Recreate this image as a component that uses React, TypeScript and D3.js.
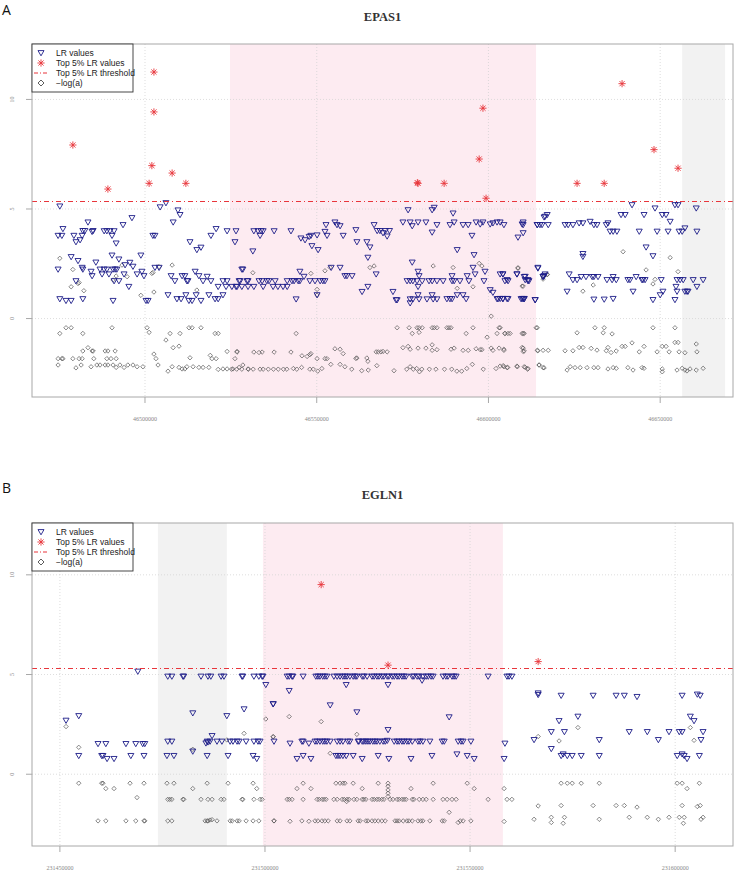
import React from 'react';
import * as d3 from 'd3';

// positions are in kb, values on the LR / -log(a) scale

// ---------- EPAS1 ----------
const lrA: [number, number][] = [
  [46475.2,5.12],[46476.1,4.09],[46474.7,3.78],[46475.8,3.78],[46479.3,3.78],[46479.9,3.49],[46481.1,3.58],[46481.7,3.78],[46481.9,4.0],[46482.5,4.0],
  [46483.4,4.39],[46484.6,3.96],[46484.9,4.0],[46488.1,3.99],[46488.9,3.99],[46489.8,3.99],[46490.4,3.78],[46491.0,3.99],[46491.6,3.43],[46493.6,4.27],
  [46496.2,4.59],[46502.3,3.78],[46502.9,3.78],[46504.4,5.08],[46506.1,5.27],[46508.2,4.39],[46509.6,4.94],[46510.2,4.73],[46513.1,3.49],[46515.1,3.13],
  [46516.3,3.24],[46519.2,3.78],[46520.7,4.09],[46523.9,3.99],[46526.5,3.99],[46526.2,3.49],
  [46478.5,2.81],[46480.5,2.63],[46474.7,2.24],[46481.7,2.32],[46481.9,2.24],[46479.9,1.71],[46484.3,2.14],[46484.6,1.94],[46485.7,2.56],[46486.9,2.24],
  [46487.5,2.02],[46488.1,2.24],[46488.9,2.24],[46489.5,2.02],[46490.4,2.88],[46490.7,2.24],[46491.3,2.24],[46491.8,2.24],[46491.0,1.71],[46492.4,1.71],
  [46492.4,2.7],[46493.9,2.02],[46494.2,2.44],[46495.3,1.45],[46495.6,2.55],[46496.5,2.37],[46497.7,2.02],[46498.8,2.88],[46499.7,1.94],[46499.1,2.14],
  [46502.9,2.32],[46504.1,2.32],[46507.6,1.94],[46508.7,1.71],[46510.8,1.94],[46511.6,1.94],[46512.2,1.71],[46512.5,1.71],[46514.6,2.14],[46515.7,1.94],
  [46516.9,1.71],[46518.1,1.91],[46519.2,1.71],[46521.3,1.45],[46522.7,1.71],[46523.6,1.45],[46523.9,1.71],[46525.3,1.45],[46526.5,1.45],[46527.7,1.71],
  [46528.5,2.24],[46530.0,1.71],
  [46475.2,0.89],[46477.0,0.81],[46478.5,0.81],[46481.9,0.89],[46490.7,0.81],[46500.3,0.81],[46500.9,0.81],[46506.7,1.07],[46509.3,0.89],[46510.5,0.89],
  [46511.9,1.07],[46512.8,0.81],[46513.7,0.81],[46514.9,1.07],[46516.3,0.81],[46518.6,1.07],[46520.4,0.89],[46521.3,0.89],[46522.7,1.07],
  [46531.7,3.99],[46532.9,3.99],[46533.8,3.99],[46534.4,3.99],[46533.5,3.78],[46531.4,3.07],[46537.6,3.99],[46542.5,3.99],[46545.4,3.66],[46546.6,3.58],
  [46547.8,3.73],[46548.3,3.78],[46548.6,3.31],[46550.1,3.8],[46550.4,3.13],[46552.7,4.27],[46552.4,3.96],[46553.0,3.78],[46555.3,4.39],[46555.9,4.27],
  [46556.8,4.22],[46557.7,3.78],[46561.4,4.04],[46561.7,3.49],[46564.6,3.49],[46565.5,3.25],[46566.7,4.27],[46567.6,4.0],[46568.4,4.0],[46569.3,3.9],
  [46570.0,4.0],[46570.5,3.75],[46571.2,4.0],[46564.9,2.78],
  [46528.2,2.24],[46527.4,1.71],[46529.7,1.71],[46533.2,1.71],[46534.1,1.71],[46535.5,1.71],[46536.1,1.71],[46537.9,1.71],
  [46526.8,1.45],[46528.2,1.45],[46530.0,1.45],[46531.7,1.45],[46534.4,1.45],[46537.3,1.45],[46538.7,1.45],[46540.2,1.45],[46541.4,1.45],[46544.0,0.88],
  [46541.4,1.71],[46542.8,1.71],[46543.4,1.71],[46544.6,1.71],[46545.1,1.71],[46545.1,2.14],[46546.3,1.91],[46548.0,1.71],[46549.5,1.71],[46551.0,1.71],
  [46551.8,1.71],[46552.4,1.71],[46550.1,1.07],[46554.2,2.32],[46556.8,2.32],[46558.2,1.94],[46558.8,1.94],[46560.3,1.94],[46563.2,1.22],[46564.9,1.45],
  [46567.3,2.02],[46572.2,1.22],[46573.4,0.84],
  [46576.6,4.95],[46583.6,4.95],[46584.2,5.06],[46589.7,4.8],[46575.1,4.39],[46577.2,4.39],[46577.8,4.22],[46579.5,4.39],[46581.8,4.39],[46583.6,3.93],
  [46585.0,4.27],[46588.8,4.27],[46590.0,4.39],[46592.6,4.27],[46594.1,4.27],[46595.2,3.78],[46596.4,4.39],[46597.6,4.3],[46598.4,4.39],[46600.5,4.3],
  [46601.3,4.35],[46602.5,4.39],[46603.4,4.39],[46604.5,4.27],[46608.6,3.7],[46610.1,3.9],[46610.1,4.27],[46610.1,4.39],[46614.2,4.27],[46615.6,4.27],
  [46616.5,4.65],[46617.1,4.73],[46590.9,3.13],[46595.8,2.9],
  [46577.8,2.56],[46579.5,2.14],[46579.8,1.94],[46576.3,1.71],[46577.2,1.71],[46578.0,1.71],[46579.2,1.71],[46579.5,1.45],[46580.7,1.71],[46582.7,1.71],
  [46583.6,1.71],[46585.0,1.71],[46586.8,1.71],[46589.4,1.94],[46589.4,1.71],[46590.0,1.71],[46591.7,1.71],[46593.8,1.94],[46594.3,1.71],[46595.5,2.32],
  [46596.1,2.02],[46599.0,2.14],[46598.7,1.71],[46604.2,2.02],[46604.8,1.71],[46605.7,1.71],[46608.3,2.02],[46610.7,1.91],[46611.5,1.71],[46611.8,1.71],
  [46614.4,2.32],[46615.9,1.91],[46616.5,2.02],[46600.5,1.3],[46601.3,1.18],
  [46573.1,0.84],[46577.2,0.88],[46577.2,0.7],[46578.0,0.88],[46579.5,1.07],[46579.8,0.88],[46582.1,0.88],[46583.6,1.07],[46583.9,0.88],[46585.0,0.88],
  [46587.9,0.89],[46588.8,0.89],[46589.4,0.89],[46590.9,1.07],[46592.6,1.07],[46593.5,0.89],[46602.5,0.89],[46602.8,0.89],[46604.2,0.89],[46605.7,0.89],
  [46609.5,0.89],[46610.1,0.89],[46610.4,0.89],[46613.6,0.84],
  [46609.8,4.3],[46616.2,4.62],[46614.2,4.27],[46615.0,4.27],[46617.4,4.27],
  [46622.3,4.27],[46623.2,4.27],[46624.6,4.27],[46626.4,4.35],[46627.5,4.35],[46629.6,4.42],[46630.7,4.27],[46631.6,4.27],[46634.3,4.27],[46634.8,4.35],
  [46635.4,3.97],[46636.3,3.97],[46637.4,3.97],[46638.6,4.73],[46639.8,4.73],[46641.8,5.18],[46643.9,3.97],[46645.3,4.73],[46648.5,5.03],[46649.1,3.97],
  [46650.6,4.73],[46651.7,4.73],[46652.3,3.97],[46652.9,4.42],[46654.3,5.18],[46655.2,5.18],[46655.5,3.97],[46656.4,3.97],[46657.2,4.12],[46660.5,5.03],
  [46660.7,3.97],[46645.9,3.25],[46647.9,2.85],[46627.5,2.95],[46627.5,2.82],
  [46603.4,2.02],[46604.2,2.02],[46605.4,1.76],[46608.3,2.02],[46610.4,1.9],[46610.7,1.76],[46611.5,1.76],[46614.4,2.29],[46615.9,1.9],[46616.2,1.95],
  [46622.9,1.23],[46623.5,2.02],[46624.6,1.76],[46625.8,1.76],[46627.0,1.9],[46628.4,1.9],[46630.2,1.9],[46630.7,1.9],[46631.9,1.9],[46634.5,1.76],
  [46636.0,1.76],[46636.3,1.9],[46637.2,1.76],[46640.6,1.76],[46641.2,1.76],[46643.0,1.9],[46644.7,1.76],[46645.0,1.76],[46645.6,1.76],[46642.1,1.23],
  [46647.9,0.85],[46650.3,1.76],[46650.8,1.23],[46650.0,1.07],[46654.3,0.85],[46654.6,1.45],[46654.9,1.23],[46654.9,1.76],[46655.8,1.76],[46656.7,1.76],
  [46657.2,1.23],[46657.8,1.23],[46658.1,1.23],[46659.6,1.76],[46660.7,1.45],[46662.5,1.76],
  [46603.4,0.9],[46604.2,0.9],[46605.4,0.9],[46609.8,0.9],[46610.4,0.9],[46613.6,0.85],[46630.7,0.87],[46633.7,0.87],[46636.3,0.9],
];

const negLogA: [number, number][] = [
  [46475.2,2.75],[46479.0,2.24],[46478.5,1.45],[46480.8,1.64],[46480.5,1.6],[46482.2,1.27],[46490.7,1.76],[46491.6,1.94],[46493.3,2.44],[46494.8,1.91],
  [46498.8,1.06],[46502.0,2.06],[46502.3,2.1],[46502.6,1.21],[46504.1,2.37],[46507.9,2.44],[46515.1,1.3],
  [46475.2,-0.68],[46477.0,-0.42],[46478.5,-0.42],[46481.9,-0.68],[46490.4,-0.42],[46500.6,-0.42],[46501.2,-0.63],[46506.1,-0.98],[46507.3,-0.68],[46510.2,-0.68],
  [46512.8,-0.42],[46513.7,-0.42],[46516.3,-0.42],[46520.4,-0.68],[46521.3,-0.68],[46508.2,-1.33],[46509.9,-1.26],[46483.4,-1.33],
  [46481.9,-1.48],[46484.6,-1.48],[46484.9,-1.48],[46488.4,-1.48],[46489.2,-1.48],[46491.3,-1.48],
  [46474.7,-1.83],[46475.8,-1.83],[46476.1,-1.83],[46479.0,-1.83],[46480.8,-1.83],[46481.7,-1.83],[46485.1,-1.83],[46488.9,-1.83],[46490.1,-1.83],[46491.6,-1.83],
  [46502.6,-1.62],[46503.2,-1.83],[46513.1,-1.79],[46519.0,-1.68],[46519.5,-1.83],[46520.7,-1.83],[46523.9,-1.5],[46526.2,-1.83],[46526.8,-1.5],
  [46474.7,-2.12],[46479.9,-2.25],[46481.4,-2.12],[46484.3,-2.2],[46486.0,-2.12],[46486.9,-2.12],[46488.4,-2.12],[46489.2,-2.12],[46490.7,-2.12],[46491.6,-2.23],
  [46492.7,-2.12],[46493.9,-2.23],[46495.0,-2.12],[46496.5,-2.12],[46497.7,-2.2],[46499.4,-2.2],[46503.8,-2.12],[46506.7,-2.4],[46507.9,-2.2],[46509.9,-2.23],
  [46510.8,-2.3],[46511.6,-2.3],[46512.2,-2.2],[46514.0,-2.2],[46515.7,-2.23],[46516.9,-2.23],[46518.6,-2.23],[46521.3,-2.32],[46522.7,-2.3],[46523.9,-2.3],
  [46525.6,-2.3],[46527.4,-2.23],[46528.5,-2.12],[46530.0,-2.3],
  [46531.4,2.09],[46548.3,2.06],[46552.4,2.18],[46553.9,2.33],[46550.1,1.33],[46550.1,1.07],[46565.5,2.33],[46566.7,2.4],[46583.9,2.4],[46589.7,2.33],
  [46590.9,1.38],[46597.3,2.52],[46598.1,2.4],[46595.5,1.45],[46600.8,0.11],[46608.6,2.32],[46610.1,1.48],[46615.9,1.8],[46617.1,2.02],
  [46544.0,-0.68],[46573.4,-0.42],[46576.9,-0.42],[46577.8,-0.68],[46579.2,-0.42],[46579.8,-0.42],[46580.7,-0.42],[46579.8,-0.63],[46583.6,-0.42],[46584.2,-0.42],
  [46585.0,-0.42],[46587.9,-0.42],[46588.5,-0.42],[46589.1,-0.42],[46593.5,-0.68],[46595.5,-0.42],[46599.6,-0.85],[46602.5,-0.68],[46603.1,-0.42],[46604.8,-0.68],
  [46605.7,-0.68],[46610.1,-0.68],[46610.4,-0.68],[46613.9,-0.42],
  [46526.8,-1.53],[46531.7,-1.53],[46533.2,-1.55],[46534.1,-1.53],[46537.6,-1.53],[46542.5,-1.53],[46545.7,-1.7],[46547.2,-1.73],[46548.0,-1.65],
  [46548.3,-1.6],[46550.1,-1.83],[46552.4,-1.83],[46553.0,-1.83],[46555.3,-1.38],[46556.8,-1.4],[46557.7,-1.6],[46561.4,-1.82],[46561.7,-1.8],[46564.6,-1.8],
  [46564.9,-1.95],[46567.3,-1.52],[46567.9,-1.52],[46568.7,-1.52],[46569.3,-1.5],[46570.5,-1.52],
  [46575.1,-1.33],[46576.6,-1.27],[46577.2,-1.4],[46579.5,-1.35],[46581.8,-1.35],[46583.6,-1.2],[46583.6,-1.45],[46585.0,-1.42],[46589.1,-1.4],[46590.0,-1.35],
  [46592.6,-1.45],[46594.1,-1.45],[46596.4,-1.38],[46597.6,-1.42],[46598.1,-1.42],[46600.8,-1.35],[46601.3,-1.45],[46603.1,-1.35],[46604.5,-1.45],[46610.1,-1.35],
  [46610.4,-1.48],[46614.2,-1.45],[46615.9,-1.45],[46617.4,-1.45],
  [46525.2,-2.31],[46526.7,-2.31],[46528.2,-2.31],[46530.1,-2.31],[46531.5,-2.31],[46533.5,-2.31],[46534.4,-2.31],[46535.9,-2.31],[46537.4,-2.31],[46538.8,-2.31],
  [46540.3,-2.31],[46541.3,-2.31],[46543.2,-2.28],[46544.2,-2.31],[46545.6,-2.23],[46548.0,-2.31],[46549.0,-2.31],[46550.3,-2.4],[46551.5,-2.28],[46554.1,-2.09],
  [46556.8,-2.09],[46558.2,-2.2],[46560.2,-2.31],[46563.1,-2.38],[46565.0,-2.35],[46567.5,-2.15],[46572.5,-2.38],[46576.2,-2.31],[46577.2,-2.2],[46578.1,-2.31],
  [46579.1,-2.28],[46579.9,-2.43],[46580.6,-2.31],[46582.8,-2.31],[46584.7,-2.31],[46587.2,-2.31],[46589.3,-2.31],[46590.8,-2.4],[46592.2,-2.4],[46593.7,-2.28],
  [46595.3,-2.09],[46598.5,-2.31],[46602.2,-2.28],[46604.3,-2.15],[46605.6,-2.23],[46608.4,-2.2],[46610.7,-2.23],[46611.4,-2.31],[46614.8,-2.12],[46616.2,-2.25],
  [46639.2,3.05],[46652.9,2.78],[46608.6,2.29],[46609.8,1.48],[46615.9,1.9],[46617.1,2.0],[46630.5,1.53],[46645.9,2.22],[46647.9,1.58],[46648.5,1.79],
  [46655.2,2.14],[46627.5,1.25],
  [46603.4,-0.42],[46604.8,-0.68],[46606.3,-0.68],[46609.8,-0.68],[46614.2,-0.42],[46625.8,-0.65],[46631.0,-0.42],[46633.7,-0.42],[46633.4,-0.65],
  [46636.0,-0.7],[46647.9,-0.42],[46654.3,-0.42],
  [46604.5,-1.4],[46609.8,-1.32],[46610.1,-1.5],[46614.4,-1.47],[46622.3,-1.47],[46624.6,-1.47],[46626.4,-1.32],[46627.5,-1.32],[46629.9,-1.36],
  [46631.6,-1.44],[46634.3,-1.47],[46634.8,-1.32],[46635.7,-1.55],[46637.2,-1.48],[46638.9,-1.27],[46639.8,-1.27],[46641.8,-1.11],[46643.9,-1.52],[46645.3,-1.27],
  [46649.1,-1.52],[46650.6,-1.27],[46651.7,-1.27],[46652.6,-1.52],[46654.3,-1.09],[46655.2,-1.09],[46655.5,-1.52],[46657.2,-1.56],[46660.5,-1.16],[46660.7,-1.52],
  [46603.4,-2.17],[46604.5,-2.2],[46605.4,-2.24],[46608.3,-2.17],[46610.4,-2.2],[46611.5,-2.28],[46614.7,-2.12],[46615.9,-2.24],[46622.9,-2.35],[46623.8,-2.2],
  [46625.2,-2.24],[46626.7,-2.24],[46628.7,-2.24],[46630.7,-2.24],[46631.9,-2.24],[46634.8,-2.3],[46636.3,-2.24],[46637.2,-2.27],[46640.6,-2.24],[46642.1,-2.35],
  [46644.7,-2.24],[46645.3,-2.27],[46650.6,-2.3],[46650.6,-2.43],[46654.9,-2.35],[46656.4,-2.27],[46657.2,-2.35],[46657.8,-2.39],[46658.7,-2.3],[46660.5,-2.35],
  [46662.5,-2.27],
];

const topA: [number, number][] = [
  [46479.0,7.92],[46489.2,5.91],[46501.2,6.17],[46502.0,6.98],[46502.6,11.25],[46502.6,9.43],[46507.9,6.64],[46511.9,6.17],
  [46579.5,6.17],[46579.3,6.2],[46587.1,6.17],[46597.3,7.28],[46598.4,9.6],[46599.3,5.49],[46625.8,6.17],[46633.7,6.17],
  [46638.9,10.72],[46648.2,7.71],[46655.2,6.86],
];

// ---------- EGLN1 ----------
const lrB: [number, number][] = [
  [231451.5,2.69],[231454.6,2.92],[231469.0,5.15],[231454.6,0.92],[231459.3,1.52],[231461.2,1.52],[231460.2,0.92],[231460.5,0.92],[231461.5,0.77],[231463.2,0.77],
  [231466.1,1.52],[231468.5,1.52],[231470.2,1.52],[231470.7,1.52],[231467.3,0.92],[231470.5,0.92],[231476.1,0.92],[231477.8,0.92],[231476.3,1.64],[231477.3,1.64],
  [231476.3,4.9],[231477.3,4.9],[231480.0,4.9],[231480.2,4.9],[231484.4,4.9],[231486.1,4.9],[231486.8,4.9],[231489.3,4.9],[231490.0,4.9],[231494.4,4.9],
  [231494.6,4.9],[231497.3,4.9],[231498.5,4.9],[231499.5,4.9],
  [231500.2,4.48],[231482.4,3.06],[231482.4,1.14],[231485.9,1.64],[231485.6,1.55],[231486.1,1.6],[231486.6,1.64],[231487.1,1.92],[231488.3,1.64],[231489.5,1.64],
  [231485.9,0.92],[231490.7,2.92],[231491.0,0.92],[231491.5,1.64],[231492.2,1.64],[231493.2,1.64],[231493.7,1.64],[231495.4,1.64],[231497.3,1.64],[231498.3,1.64],
  [231494.9,3.26],[231497.1,0.92],[231498.0,0.77],[231502.0,3.52],[231502.2,1.64],
  [231499.3,4.9],[231505.4,4.9],[231505.9,4.9],[231506.6,4.9],[231506.8,4.9],[231509.3,4.9],[231512.4,4.9],[231512.9,4.9],[231513.4,4.9],[231514.1,4.9],
  [231514.6,4.9],[231515.1,4.9],[231516.8,4.9],[231517.6,4.9],[231518.3,4.9],[231519.0,4.9],[231519.5,4.9],[231520.0,4.9],[231520.7,4.9],[231521.5,4.9],
  [231522.0,4.9],[231522.4,4.9],[231523.7,4.9],[231524.1,4.9],[231524.9,4.9],[231526.1,4.9],[231526.6,4.9],[231527.3,4.9],[231527.8,4.9],[231528.5,4.9],
  [231529.0,4.9],[231529.8,4.9],[231530.2,4.9],[231531.0,4.9],[231531.5,4.9],[231532.2,4.9],[231532.7,4.9],[231533.4,4.9],[231533.9,4.9],[231534.4,4.9],
  [231535.9,4.9],[231536.3,4.9],[231537.1,4.9],[231537.6,4.9],[231538.5,4.9],[231539.3,4.9],[231539.8,4.9],[231540.5,4.9],[231541.0,4.9],[231543.4,4.9],
  [231544.1,4.9],[231544.6,4.9],[231545.6,4.9],[231546.1,4.9],[231546.6,4.9],[231554.4,4.9],[231559.0,4.9],[231559.5,4.9],[231560.2,4.9],
  [231538.3,4.7],[231519.8,4.48],[231530.0,4.48],[231505.9,4.18],[231502.0,3.51],[231515.9,3.46],[231522.4,3.11],[231544.9,2.86],[231530.0,2.22],
  [231498.8,1.64],[231509.0,1.64],[231509.3,1.64],[231512.2,1.64],[231512.7,1.64],[231513.4,1.64],[231514.1,1.64],[231514.6,1.64],[231515.1,1.64],
  [231515.9,1.64],[231517.6,1.64],[231518.3,1.64],[231519.0,1.64],[231520.2,1.64],[231520.7,1.64],[231522.7,1.64],[231522.9,1.64],[231523.7,1.64],[231524.1,1.64],
  [231524.6,1.64],[231525.1,1.64],[231525.6,1.64],[231526.3,1.64],[231526.8,1.64],[231527.3,1.64],[231528.0,1.64],[231528.8,1.64],[231529.3,1.64],[231529.8,1.68],
  [231531.5,1.64],[231532.2,1.64],[231532.7,1.64],[231533.4,1.64],[231533.9,1.64],[231534.6,1.64],[231535.1,1.64],[231535.9,1.64],[231537.3,1.64],[231537.8,1.64],
  [231538.5,1.64],[231540.2,1.64],[231543.2,1.64],[231543.7,1.64],[231547.1,1.64],[231547.8,1.64],[231548.3,1.64],[231550.2,1.64],[231558.5,1.54],
  [231506.1,1.54],[231510.7,1.54],
  [231507.8,0.77],[231509.3,0.92],[231511.2,0.77],[231517.3,0.92],[231517.8,0.92],[231518.3,0.92],[231519.0,0.92],[231519.8,0.92],[231521.5,0.92],[231523.7,0.77],
  [231527.6,0.92],[231530.2,0.77],[231535.6,0.77],[231540.7,0.92],[231546.8,1.0],[231549.3,0.92],[231551.0,0.77],[231558.3,0.77],
  [231566.6,3.98],[231566.6,4.06],[231572.2,3.94],[231580.0,3.94],[231585.6,3.94],[231587.6,3.94],[231590.7,3.88],[231601.7,3.94],[231605.4,4.0],[231606.1,3.94],
  [231576.3,2.89],[231571.7,2.67],[231603.7,2.89],[231604.6,2.67],
  [231569.8,2.12],[231573.0,2.12],[231588.8,2.12],[231593.2,2.12],[231598.5,2.12],[231601.0,2.12],[231601.7,2.12],[231606.8,2.12],
  [231565.6,1.72],[231581.5,1.72],[231595.9,1.72],[231606.3,1.72],[231569.8,1.27],
  [231572.2,0.92],[231572.7,1.0],[231573.7,0.92],[231574.9,0.92],[231577.1,0.92],[231581.5,0.92],[231600.5,0.92],[231601.7,1.0],[231602.2,0.92],[231602.9,0.77],
  [231605.9,0.92],
];

const negLogB: [number, number][] = [
  [231451.5,2.39],[231454.6,1.35],[231482.4,1.25],[231494.9,2.05],[231490.7,1.72],[231500.2,2.77],[231502.0,1.87],
  [231454.6,-0.45],[231460.2,-0.45],[231460.5,-0.45],[231467.1,-0.45],[231470.5,-0.45],[231476.1,-0.45],[231477.8,-0.45],[231485.9,-0.45],[231491.0,-0.45],[231497.1,-0.45],
  [231461.2,-0.72],[231463.2,-0.72],[231468.8,-1.17],[231482.4,-0.72],[231498.0,-0.72],
  [231476.3,-1.26],[231476.8,-1.26],[231477.3,-1.26],[231480.0,-1.26],[231480.2,-1.26],[231484.4,-1.26],[231486.1,-1.26],[231487.1,-1.26],[231489.3,-1.26],
  [231490.0,-1.26],[231494.4,-1.26],[231494.6,-1.26],[231497.3,-1.26],[231498.8,-1.26],[231499.3,-1.26],
  [231459.3,-2.34],[231461.2,-2.34],[231466.1,-2.34],[231468.5,-2.34],[231470.5,-2.34],[231470.7,-2.34],[231476.3,-2.34],[231477.3,-2.34],[231485.4,-2.34],
  [231485.9,-2.34],[231486.1,-2.34],[231486.6,-2.3],[231487.1,-2.28],[231488.3,-2.34],[231491.5,-2.34],[231492.0,-2.34],[231493.2,-2.34],[231493.7,-2.34],
  [231495.4,-2.34],[231497.1,-2.34],[231498.5,-2.34],[231502.2,-2.34],
  [231505.9,2.89],[231513.7,2.64],[231522.4,2.0],[231502.0,1.89],[231515.9,1.05],
  [231509.3,-0.45],[231517.3,-0.45],[231518.3,-0.45],[231519.0,-0.45],[231519.5,-0.45],[231521.5,-0.45],[231527.6,-0.45],[231530.0,-0.45],[231541.0,-0.45],[231549.3,-0.45],
  [231507.8,-0.72],[231511.2,-0.72],[231523.7,-0.72],[231535.6,-0.72],[231551.0,-0.72],[231558.3,-0.72],
  [231530.0,-0.6],[231530.0,-0.79],[231530.0,-0.95],[231530.0,-1.12],
  [231505.4,-1.26],[231505.9,-1.26],[231506.6,-1.26],[231509.3,-1.26],[231512.7,-1.26],[231513.2,-1.26],[231513.9,-1.26],[231514.4,-1.26],[231514.9,-1.26],
  [231516.8,-1.26],[231517.6,-1.26],[231518.8,-1.26],[231519.3,-1.26],[231520.0,-1.26],[231520.5,-1.26],[231521.7,-1.26],[231522.4,-1.26],[231523.7,-1.26],
  [231524.1,-1.26],[231524.6,-1.26],[231526.1,-1.26],[231526.6,-1.26],[231527.3,-1.26],[231527.8,-1.26],[231528.5,-1.26],[231529.0,-1.26],[231530.5,-1.26],
  [231531.2,-1.26],[231532.2,-1.26],[231532.7,-1.26],[231533.4,-1.26],[231533.9,-1.26],[231534.4,-1.26],[231535.9,-1.26],[231536.3,-1.26],[231537.6,-1.26],
  [231538.5,-1.26],[231539.3,-1.26],[231541.0,-1.26],[231543.4,-1.26],[231544.4,-1.26],[231545.6,-1.26],[231546.6,-1.26],[231554.4,-1.26],[231559.0,-1.26],
  [231560.2,-1.26],[231519.9,-1.37],[231544.9,-1.91],
  [231502.2,-2.34],[231506.1,-2.36],[231509.0,-2.34],[231510.7,-2.36],[231512.2,-2.34],[231512.9,-2.34],[231513.9,-2.34],[231514.6,-2.34],[231515.4,-2.34],
  [231517.6,-2.34],[231518.3,-2.34],[231520.0,-2.34],[231520.7,-2.34],[231522.7,-2.34],[231523.2,-2.34],[231524.6,-2.34],[231525.1,-2.34],[231526.1,-2.34],
  [231526.8,-2.34],[231527.6,-2.34],[231528.5,-2.34],[231529.3,-2.34],[231531.7,-2.34],[231532.2,-2.34],[231532.7,-2.34],[231533.7,-2.34],[231534.6,-2.34],
  [231535.1,-2.34],[231535.9,-2.34],[231537.3,-2.34],[231538.0,-2.34],[231538.5,-2.34],[231540.2,-2.34],[231543.2,-2.34],[231543.7,-2.34],[231547.1,-2.42],
  [231547.6,-2.34],[231548.3,-2.34],[231550.2,-2.34],[231558.3,-2.37],
  [231566.6,1.89],[231576.3,2.34],[231571.7,1.67],[231603.7,2.34],[231604.6,1.7],
  [231572.2,-0.45],[231573.7,-0.45],[231574.9,-0.45],[231577.1,-0.45],[231581.5,-0.45],[231600.5,-0.45],[231601.7,-0.45],[231602.9,-0.72],[231605.9,-0.45],
  [231566.6,-1.59],[231572.2,-1.57],[231580.0,-1.57],[231585.6,-1.57],[231587.6,-1.57],[231590.7,-1.65],[231601.7,-1.57],[231605.4,-1.62],[231606.1,-1.57],
  [231565.6,-2.26],[231569.8,-2.16],[231569.8,-2.42],[231573.0,-2.16],[231572.7,-2.46],[231581.5,-2.26],[231588.8,-2.16],[231593.2,-2.16],[231595.9,-2.26],
  [231598.5,-2.16],[231601.0,-2.16],[231602.2,-2.16],[231602.0,-2.46],[231606.3,-2.26],[231606.8,-2.16],
];

const topB: [number, number][] = [
  [231513.7,9.51],[231530.0,5.47],[231566.6,5.65],
];

const yTicks = [0, 5, 10];
const xTicksA = [46500, 46550, 46600, 46650];
const xTicksB = [231450, 231500, 231550, 231600];
const legendLabels = ['LR values', 'Top 5% LR values', 'Top 5% LR threshold', '\u2212log(a)'];

const navy = '#1c1c88';
const red = '#e8353b';
const grey = '#555';

const tri = 'M-3,-2.4L3,-2.4L0,2.8Z';
const dia = 'M0,-2.2L2.2,0L0,2.2L-2.2,0Z';
const star = (r: number) => {
  const k = r * 0.72;
  return `M${-r},0L${r},0M0,${-r}L0,${r}M${-k},${-k}L${k},${k}M${-k},${k}L${k},${-k}`;
};

type PanelProps = {
  top: number; height: number; title: string; titleY: number; letter: string; letterY: number;
  xDomain: [number, number]; yDomain: [number, number]; xTicks: number[];
  lr: [number, number][]; negLog: [number, number][]; topLR: [number, number][];
  threshold: number; pink: [number, number]; shade: [number, number];
};

const Panel = (p: PanelProps) => {
  const left = 32, right = 733;
  const x = d3.scaleLinear().domain(p.xDomain).range([left, right]);
  const y = d3.scaleLinear().domain(p.yDomain).range([p.top + p.height, p.top]);
  const bottom = p.top + p.height;
  const fmt = d3.format('d');
  return (
    <g>
      <text x={2} y={p.letterY} fontFamily="'Open Sans', sans-serif" fontSize={14} fill="#111">{p.letter}</text>
      <text x={(left + right) / 2} y={p.titleY} textAnchor="middle" fontFamily="'Liberation Serif', serif" fontWeight="bold" fontSize={12.5} fill="#333">{p.title}</text>
      <rect x={x(p.pink[0])} y={p.top} width={x(p.pink[1]) - x(p.pink[0])} height={p.height} fill="#fdebf1" />
      <rect x={x(p.shade[0])} y={p.top} width={x(p.shade[1]) - x(p.shade[0])} height={p.height} fill="#f2f2f2" />
      {p.xTicks.map(t => (
        <line key={'gx' + t} x1={x(t)} x2={x(t)} y1={p.top} y2={bottom} stroke="#d4d4d4" strokeWidth={0.8} strokeDasharray="1,2" />
      ))}
      {yTicks.map(t => (
        <line key={'gy' + t} x1={left} x2={right} y1={y(t)} y2={y(t)} stroke="#d4d4d4" strokeWidth={0.8} strokeDasharray="1,2" />
      ))}
      {p.negLog.map((d, i) => (
        <path key={'n' + i} d={dia} transform={`translate(${x(d[0])},${y(d[1])})`} fill="none" stroke={grey} strokeWidth={0.7} />
      ))}
      {p.lr.map((d, i) => (
        <path key={'l' + i} d={tri} transform={`translate(${x(d[0])},${y(d[1])})`} fill="none" stroke={navy} strokeWidth={0.9} />
      ))}
      <line x1={left} x2={right} y1={Math.round(y(p.threshold)) + 0.5} y2={Math.round(y(p.threshold)) + 0.5} stroke={red} strokeWidth={1} strokeDasharray="5,3,1,3" />
      {p.topLR.map((d, i) => (
        <path key={'t' + i} d={star(3.6)} transform={`translate(${x(d[0])},${y(d[1])})`} fill="none" stroke={red} strokeWidth={0.9} />
      ))}
      <rect x={left} y={p.top} width={right - left} height={p.height} fill="none" stroke="#a8a8a8" strokeWidth={1} />
      {p.xTicks.map(t => (
        <g key={'xt' + t}>
          <line x1={x(t)} x2={x(t)} y1={bottom} y2={bottom + 6} stroke="#a8a8a8" />
          <text x={x(t)} y={bottom + 24} textAnchor="middle" fontFamily="'Liberation Serif', serif" fontSize={6} fill="#888">{fmt(t * 1000)}</text>
        </g>
      ))}
      {yTicks.map(t => (
        <g key={'yt' + t}>
          <line x1={left - 6} x2={left} y1={y(t)} y2={y(t)} stroke="#a8a8a8" />
          <text transform={`translate(${left - 18},${y(t)}) rotate(-90)`} textAnchor="middle" fontFamily="'Liberation Serif', serif" fontSize={6} fill="#888">{t}</text>
        </g>
      ))}
      <g>
        <rect x={left} y={p.top} width={101} height={48} fill="#fff" stroke="#333" strokeWidth={0.9} />
        <path d={tri} transform={`translate(41,${p.top + 9})`} fill="none" stroke={navy} strokeWidth={0.9} />
        <path d={star(3.6)} transform={`translate(41,${p.top + 19})`} fill="none" stroke={red} strokeWidth={0.9} />
        <line x1={34} x2={49} y1={p.top + 29} y2={p.top + 29} stroke={red} strokeWidth={1} strokeDasharray="4,2,1,2" />
        <path d="M0,-3L3,0L0,3L-3,0Z" transform={`translate(41,${p.top + 39})`} fill="none" stroke="#333" strokeWidth={0.8} />
        {legendLabels.map((s, i) => (
          <text key={s} x={56} y={p.top + 12 + i * 10} fontFamily="'Liberation Sans', sans-serif" fontSize={8.5} fill="#222">{s}</text>
        ))}
      </g>
    </g>
  );
};

export default function App() {
  return (
    <svg width={735} height={872} style={{ position: 'absolute', left: 0, top: 0, background: '#fff' }}>
      <Panel top={44} height={353} title="EPAS1" titleY={21} letter="A" letterY={15}
        xDomain={[46467.1, 46671.2]} yDomain={[-3.58, 12.53]} xTicks={xTicksA}
        lr={lrA} negLog={negLogA} topLR={topA} threshold={5.36}
        pink={[46524.75, 46613.86]} shade={[46656.4, 46668.9]} />
      <Panel top={523} height={323} title="EGLN1" titleY={499} letter="B" letterY={493}
        xDomain={[231443.2, 231614.1]} yDomain={[-3.6, 12.6]} xTicks={xTicksB}
        lr={lrB} negLog={negLogB} topLR={topB} threshold={5.35}
        pink={[231499.5, 231558.0]} shade={[231473.9, 231490.7]} />
    </svg>
  );
}
